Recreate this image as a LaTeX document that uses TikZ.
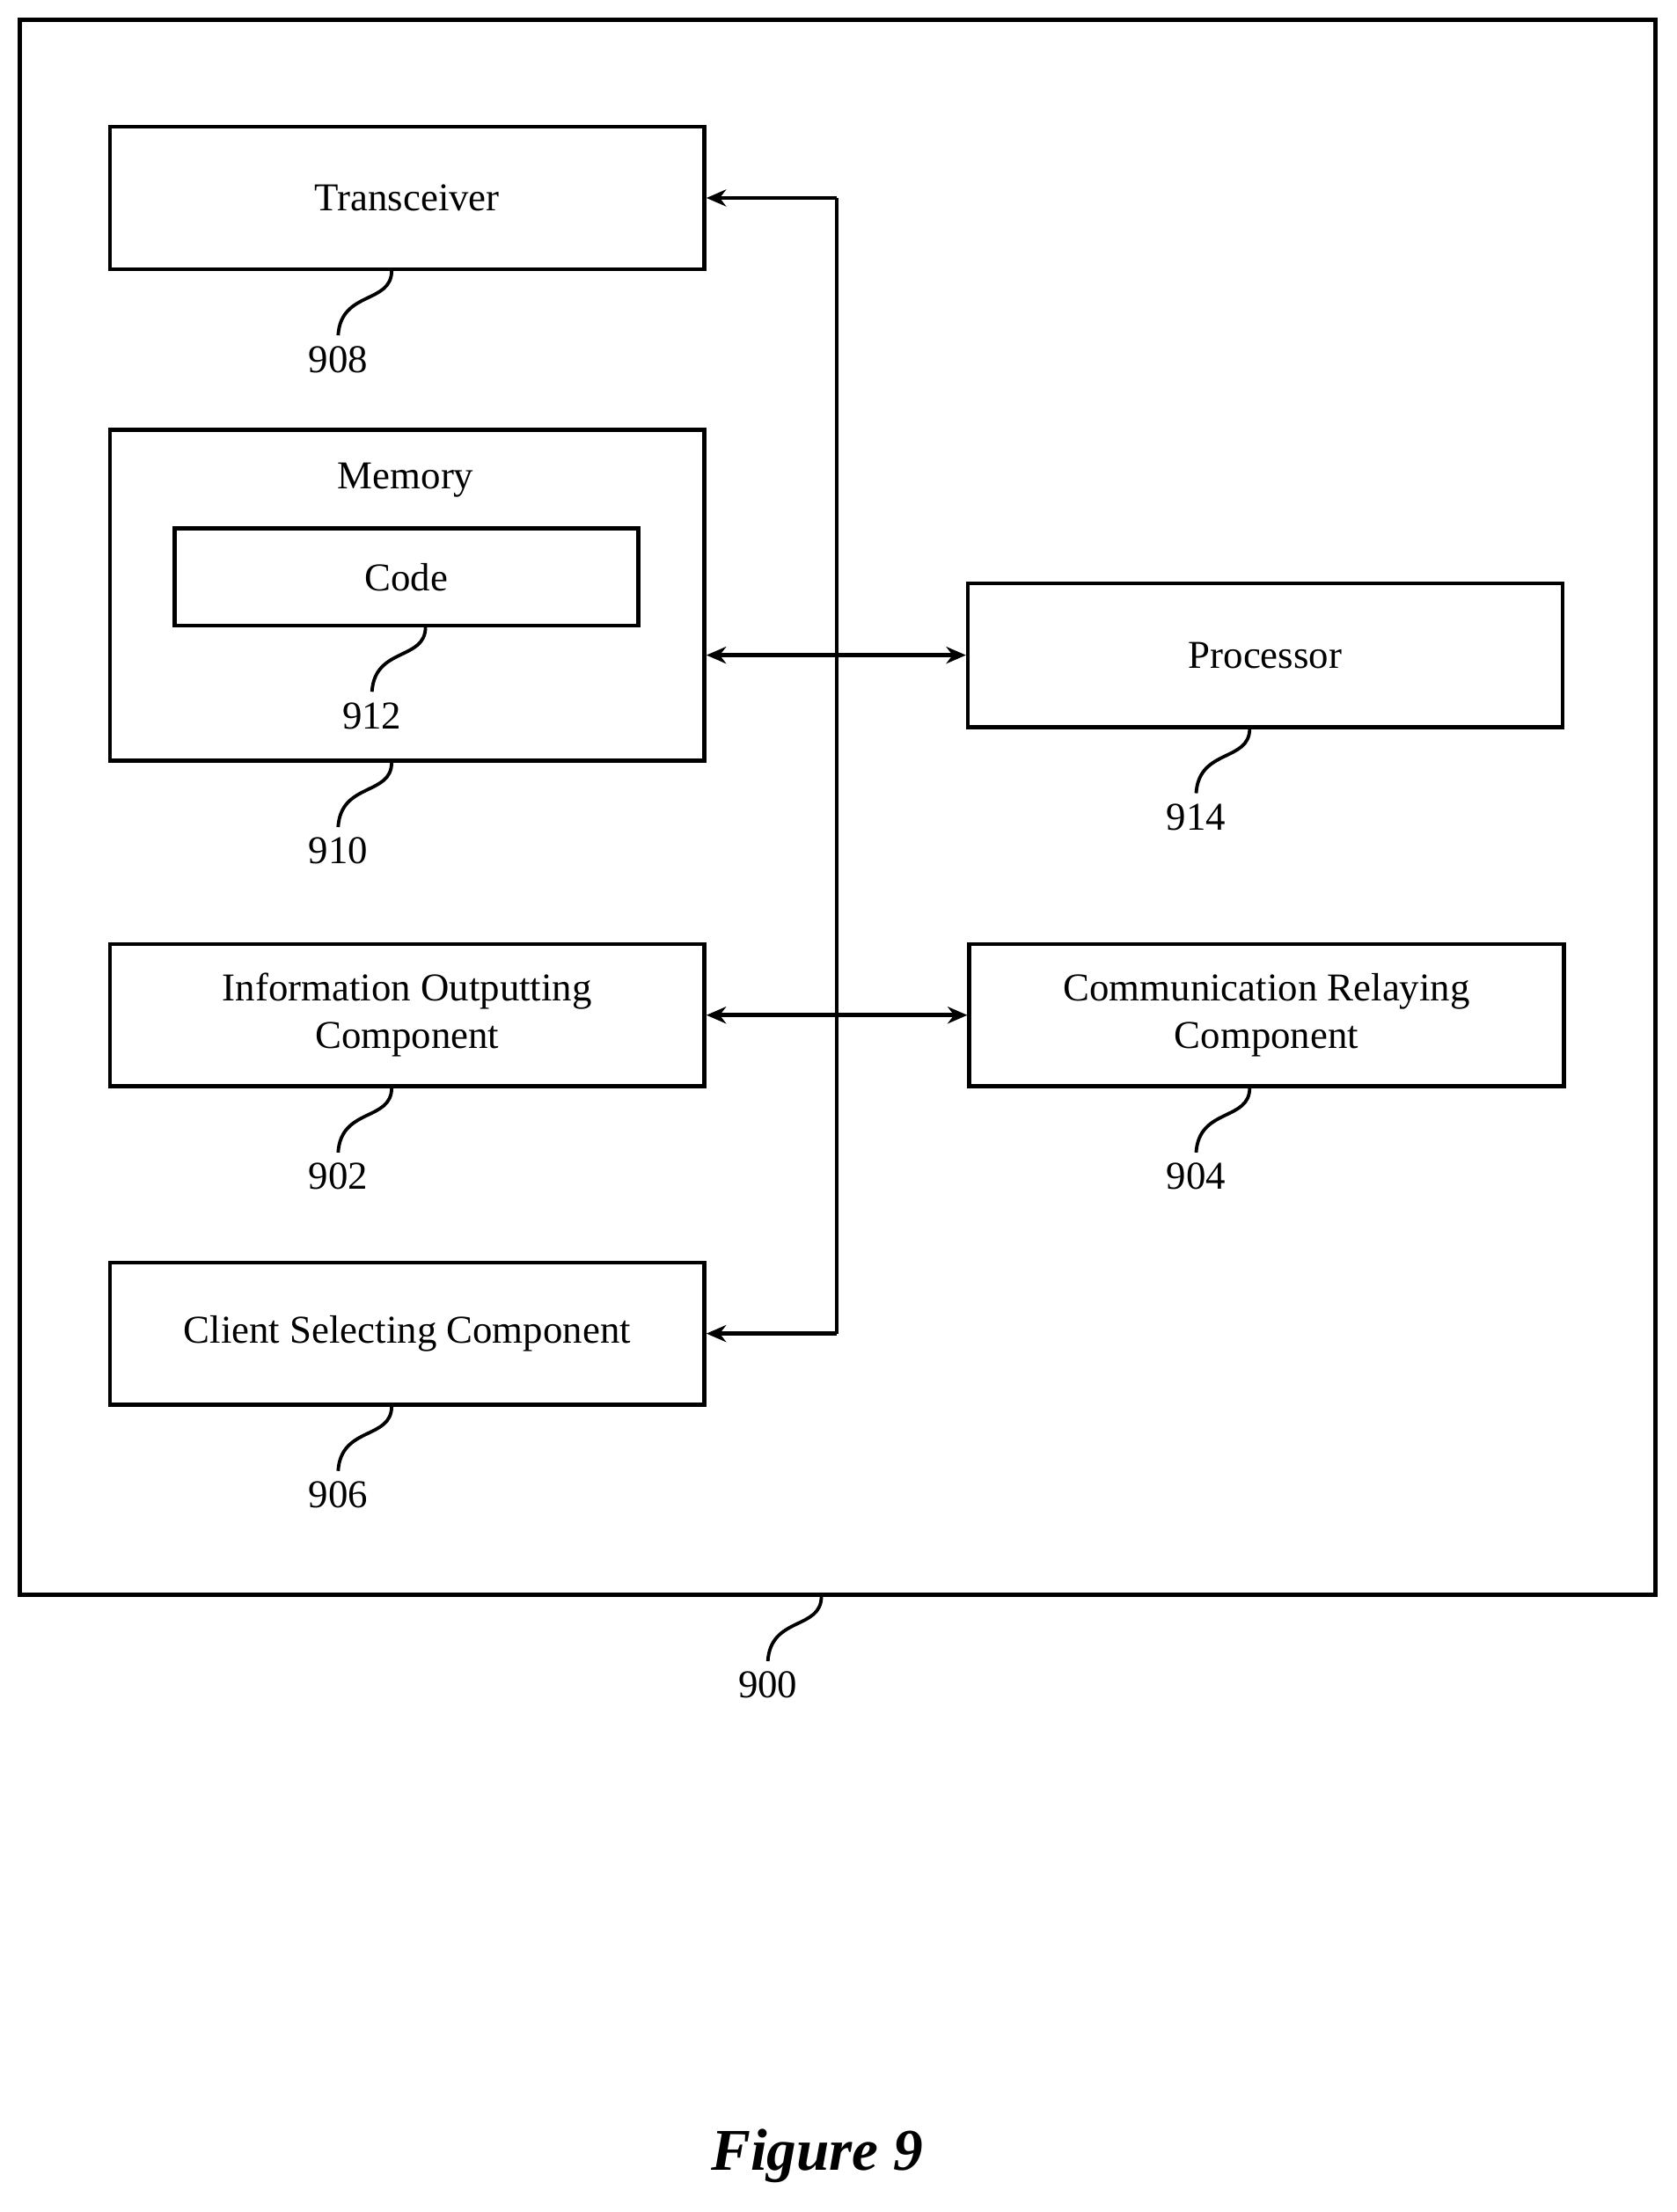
\documentclass[tikz,border=0pt]{standalone}
\usepackage{fontspec}
\setmainfont{Liberation Serif}
\usetikzlibrary{arrows.meta}
\begin{document}
\begin{tikzpicture}[x=0.5pt,y=-0.5pt,line width=1.4pt,
  box/.style={draw,rectangle,line width=1.4pt,align=center,font=\fontsize{14}{17}\selectfont,inner sep=0pt},
  num/.style={font=\fontsize{14}{17}\selectfont,inner sep=0pt},
  arr/.style={-{Stealth[length=7pt,width=6pt]}},
  darr/.style={{Stealth[length=7pt,width=6pt]}-{Stealth[length=7pt,width=6pt]}}]
\useasboundingbox (0,0) rectangle (1190,1570);
\newcommand{\leadto}[3]{\draw[line width=1.2pt] (#1,#2) .. controls (#1,#2+24) and (#1-36,#2+14) .. (#1-38,#2+46);
  \node[num] (#3) at (#1-38,#2+63) {#3};}
\node[draw,line width=1.4pt,minimum width=580.5pt,minimum height=559pt,inner sep=0pt] (outer) at (594.5,573) {};
\node[box,minimum width=211pt,minimum height=50.5pt] (T) at (289,140.5) {Transceiver};
\node[box,minimum width=211pt,minimum height=117.5pt] (M) at (289,422.5) {};
\node[num] (memlbl) at (288,341) {Memory};
\node[box,minimum width=164.5pt,minimum height=34.5pt] (C) at (288.5,409.5) {Code};
\node[box,minimum width=211pt,minimum height=51pt] (P) at (898,465) {Processor};
\node[box,minimum width=211pt,minimum height=50.5pt] (I) at (289,720.5) {Information Outputting\\Component};
\node[box,minimum width=211pt,minimum height=50.5pt] (R) at (899,720.5) {Communication Relaying\\Component};
\node[box,minimum width=211pt,minimum height=50.5pt] (S) at (289,946.5) {Client Selecting Component};
\coordinate (bt) at (594,140.5);
\coordinate (bb) at (594,946.5);
\draw (bt) -- (bb);
\draw[arr] (bt) -- (T.east);
\draw[arr] (bb) -- (S.east);
\draw[darr] (M.east |- P.west) -- (P.west);
\draw[darr] (I.east) -- (R.west);
\leadto{278}{192}{908}
\leadto{302}{445}{912}
\leadto{278}{541}{910}
\leadto{887}{517}{914}
\leadto{278}{772}{902}
\leadto{887}{772}{904}
\leadto{278}{998}{906}
\leadto{583}{1133}{900}
\node[font=\fontsize{21}{25}\selectfont\bfseries\itshape] (fig) at (580,1530) {Figure 9};
\end{tikzpicture}
\end{document}
